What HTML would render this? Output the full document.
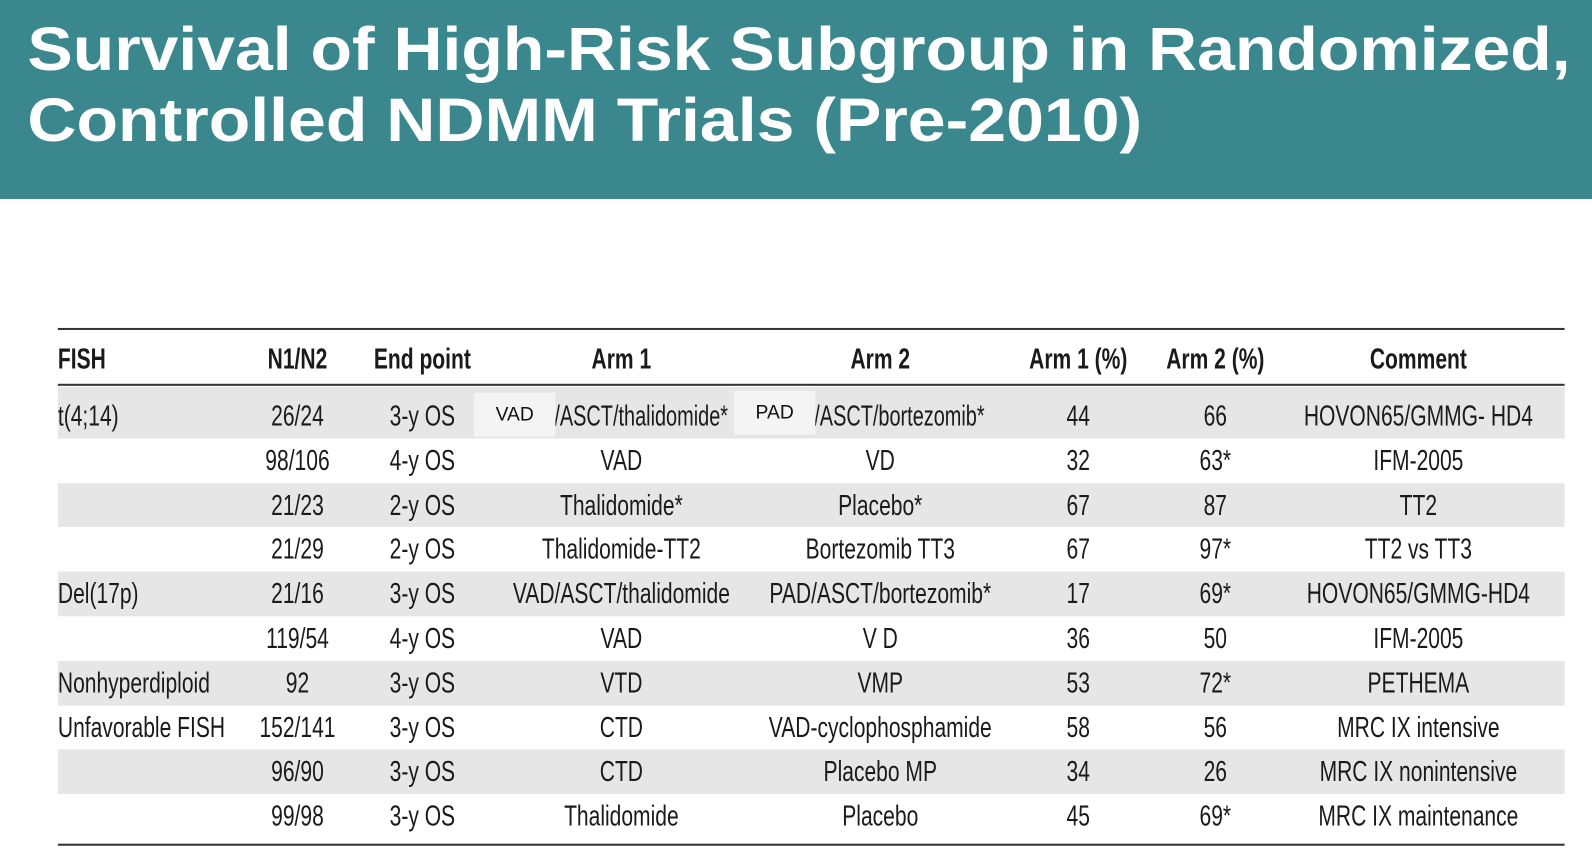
<!DOCTYPE html>
<html><head><meta charset="utf-8">
<style>
body{margin:0;width:1592px;height:856px;overflow:hidden;background:#fff;font-family:"Liberation Sans",sans-serif;position:relative}
#wrap{position:absolute;left:0;top:0;width:1568px;height:843px;transform:scale(1.0153);transform-origin:0 0}
.banner{position:absolute;left:0;top:0;width:1592px;height:196px;background:#3b878e}
.t{position:absolute;white-space:nowrap;font-size:28px;color:#1a1a1a;line-height:30px}
.c{transform:translateX(-50%) scaleX(0.74);transform-origin:center}
.l{transform:scaleX(0.74);transform-origin:left}
.n{transform:scaleX(0.7);transform-origin:left}
.h{font-weight:bold}
.band{position:absolute;left:57px;width:1484px;background:#e6e6e6}
.rule{position:absolute;left:57px;width:1484px;background:#333}
.box{position:absolute;background:#f4f4f4;font-size:19px;color:#111;display:flex;align-items:center;justify-content:center}
</style></head><body>
<div id="wrap">
<div class="banner">
<svg width="1592" height="196">
<text x="27" y="69" font-family="Liberation Sans" font-weight="bold" font-size="60" fill="#fff" textLength="1520" lengthAdjust="spacingAndGlyphs">Survival of High-Risk Subgroup in Randomized,</text>
<text x="27" y="139" font-family="Liberation Sans" font-weight="bold" font-size="60" fill="#fff" textLength="1098" lengthAdjust="spacingAndGlyphs">Controlled NDMM Trials (Pre-2010)</text>
</svg></div>
<div id="tbl"></div>
</div>
<script>
const headers=["FISH","N1/N2","End point","Arm 1","Arm 2","Arm 1 (%)","Arm 2 (%)","Comment"];
const fish=["t(4;14)","","","","Del(17p)","","Nonhyperdiploid","Unfavorable FISH","",""];
const n12=["26/24","98/106","21/23","21/29","21/16","119/54","92","152/141","96/90","99/98"];
const endp=["3-y OS","4-y OS","2-y OS","2-y OS","3-y OS","4-y OS","3-y OS","3-y OS","3-y OS","3-y OS"];
const arm1=["","VAD","Thalidomide*","Thalidomide-TT2","VAD/ASCT/thalidomide","VAD","VTD","CTD","CTD","Thalidomide"];
const arm2=["","VD","Placebo*","Bortezomib TT3","PAD/ASCT/bortezomib*","V D","VMP","VAD-cyclophosphamide","Placebo MP","Placebo"];
const p1=["44","32","67","67","17","36","53","58","34","45"];
const p2=["66","63*","87","97*","69*","50","72*","56","26","69*"];
const comm=["HOVON65/GMMG- HD4","IFM-2005","TT2","TT2 vs TT3","HOVON65/GMMG-HD4","IFM-2005","PETHEMA","MRC IX intensive","MRC IX nonintensive","MRC IX maintenance"];
const colX=[57,293,416,612,867,1062,1197,1397];
const tbl=document.getElementById('tbl');
function add(cls,txt,x,y,name){const d=document.createElement('div');d.className='t '+cls;d.textContent=txt;d.style.left=x+'px';d.style.top=y+'px';


tbl.appendChild(d);return d;}
function rule(y,h,name){const r=document.createElement('div');r.className='rule';r.style.top=y+'px';r.style.height=h+'px';


tbl.appendChild(r);}
rule(323,2,'top-rule');rule(378,2,'header-rule');rule(831,2,'bottom-rule');
const rowTop=i=>i===0?381:388+43.8*i;
for(let i=0;i<10;i+=2){const b=document.createElement('div');b.className='band';const t=rowTop(i);b.style.top=t+'px';b.style.height=(rowTop(i+1)-t)+'px';


tbl.appendChild(b);}
headers.forEach((h,j)=>add('h '+(j===0?'l':'c'),h,colX[j],339,'header-'+h.toLowerCase().replace(/[^a-z0-9]+/g,'-')));
const cols=[fish,n12,endp,arm1,arm2,p1,p2,comm];
const names=['fish','n1-n2','end-point','arm1','arm2','arm1-pct','arm2-pct','comment'];
for(let i=0;i<10;i++){const cy=395+43.8*i;
cols.forEach((c,j)=>{if(c[i])add(j===0?'l':'c',c[i],colX[j],cy,names[j]+'-cell');});}
add('n','/ASCT/thalidomide*',546,395,'arm1-cell');
add('n','/ASCT/bortezomib*',802,395,'arm2-cell');
function box(x,y,txt,name){const b=document.createElement('div');b.className='box';b.style.left=x+'px';b.style.top=y+'px';b.style.width='80px';b.style.height='43px';b.textContent=txt;


tbl.appendChild(b);}
box(467,387,'VAD','vad-label');box(723,385,'PAD','pad-label');
</script>
</body></html>
